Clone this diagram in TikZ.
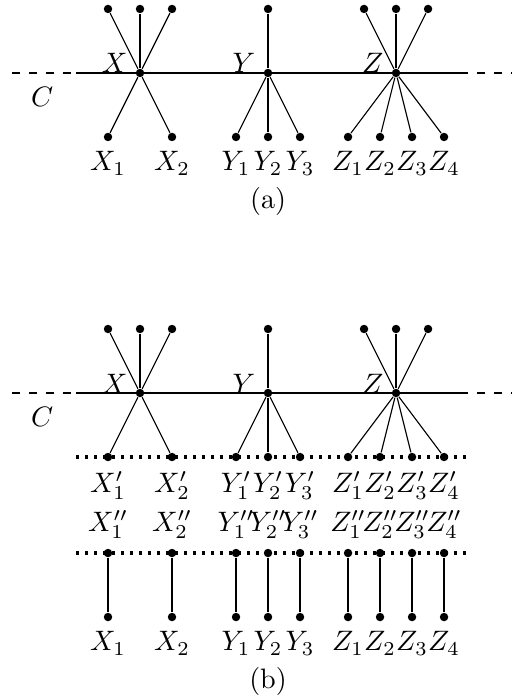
\documentclass[tikz,border=0pt]{standalone}
\usepackage{amsmath}
\usepackage{tikz}
\usetikzlibrary{positioning}
\tikzset{
  dot/.style={circle, fill, inner sep=0pt, minimum size=3pt},
  curve/.style={line width=0.9pt},
  cut/.style={line width=1.2pt, dotted},
  vname/.style={anchor=base east}
}

\begin{document}
\begin{tikzpicture}[x=0.4cm, y=0.4cm]
	\useasboundingbox (-0.375,2.28) rectangle (15.625,-19.53);
	% Curve C with the points X, Y, Z (both panels):
	\foreach \p/\yy in {a/0, b/-10}{
		\begin{scope}[shift={(0,\yy)}, name prefix=\p-]
			\coordinate (c0) at (0,0);
			\coordinate (c1) at (2,0);
			\coordinate (c2) at (14,0);
			\coordinate (c3) at (15.6,0);
			\draw[curve, dashed] (c0) -- (c1);
			\draw[curve] (c1) -- (c2);
			\draw[curve, dashed] (c2) -- (c3);
			\node (C) at (0.94,-0.75) {$C$};
			\node[dot] (X) at (4,0) {};
			\node[dot] (Y) at (8,0) {};
			\node[dot] (Z) at (12,0) {};
			\node[vname] (Xn) at ([xshift=-1pt]X.center) {$X$};
			\node[vname] (Yn) at ([xshift=-1pt]Y.center) {$Y$};
			\node[vname] (Zn) at ([xshift=-1pt]Z.center) {$Z$};
			\foreach \i in {1,2,3}{
				\node[dot] (Xt\i) at (2+\i,2) {};
				\node[dot] (Zt\i) at (10+\i,2) {};
				\draw (X) -- (Xt\i);
				\draw (Z) -- (Zt\i);
			}
			\node[dot] (Yt) at (8,2) {};
			\draw (Y) -- (Yt);
		\end{scope}
	}
	% Panel (a):
	\foreach \i/\x in {1/3, 2/5}{
		\node[dot, label=below:$X_\i$] (a-X\i) at (\x,-2) {};
		\draw (a-X) -- (a-X\i);
	}
	\foreach \i/\x in {1/7, 2/8, 3/9}{
		\node[dot, label=below:$Y_\i$] (a-Y\i) at (\x,-2) {};
		\draw (a-Y) -- (a-Y\i);
	}
	\foreach \i/\x in {1/10.5, 2/11.5, 3/12.5, 4/13.5}{
		\node[dot, label=below:$Z_\i$] (a-Z\i) at (\x,-2) {};
		\draw (a-Z) -- (a-Z\i);
	}
	\node (capa) at (8,-4) {(a)};
	% Panel (b):
	\coordinate (p0) at (2,-12);
	\coordinate (p1) at (14.3,-12);
	\coordinate (q0) at (2,-15);
	\coordinate (q1) at (14.3,-15);
	\draw[cut] (p0) -- (p1);
	\draw[cut] (q0) -- (q1);
	\foreach \i/\x in {1/3, 2/5}{
		\node[dot, label=below:$X_\i'$] (b-Xp\i) at (\x,-12) {};
		\node[dot, label=above:$X_\i''$] (b-Xq\i) at (\x,-15) {};
		\node[dot, label=below:$X_\i$] (b-X\i) at (\x,-17) {};
		\draw (b-X) -- (b-Xp\i);
		\draw (b-Xq\i) -- (b-X\i);
	}
	\foreach \i/\x in {1/7, 2/8, 3/9}{
		\node[dot, label=below:$Y_\i'$] (b-Yp\i) at (\x,-12) {};
		\node[dot, label=above:$Y_\i''$] (b-Yq\i) at (\x,-15) {};
		\node[dot, label=below:$Y_\i$] (b-Y\i) at (\x,-17) {};
		\draw (b-Y) -- (b-Yp\i);
		\draw (b-Yq\i) -- (b-Y\i);
	}
	\foreach \i/\x in {1/10.5, 2/11.5, 3/12.5, 4/13.5}{
		\node[dot, label=below:$Z_\i'$] (b-Zp\i) at (\x,-12) {};
		\node[dot, label=above:$Z_\i''$] (b-Zq\i) at (\x,-15) {};
		\node[dot, label=below:$Z_\i$] (b-Z\i) at (\x,-17) {};
		\draw (b-Z) -- (b-Zp\i);
		\draw (b-Zq\i) -- (b-Z\i);
	}
	\node (capb) at (8,-19) {(b)};
\end{tikzpicture}
\end{document}
